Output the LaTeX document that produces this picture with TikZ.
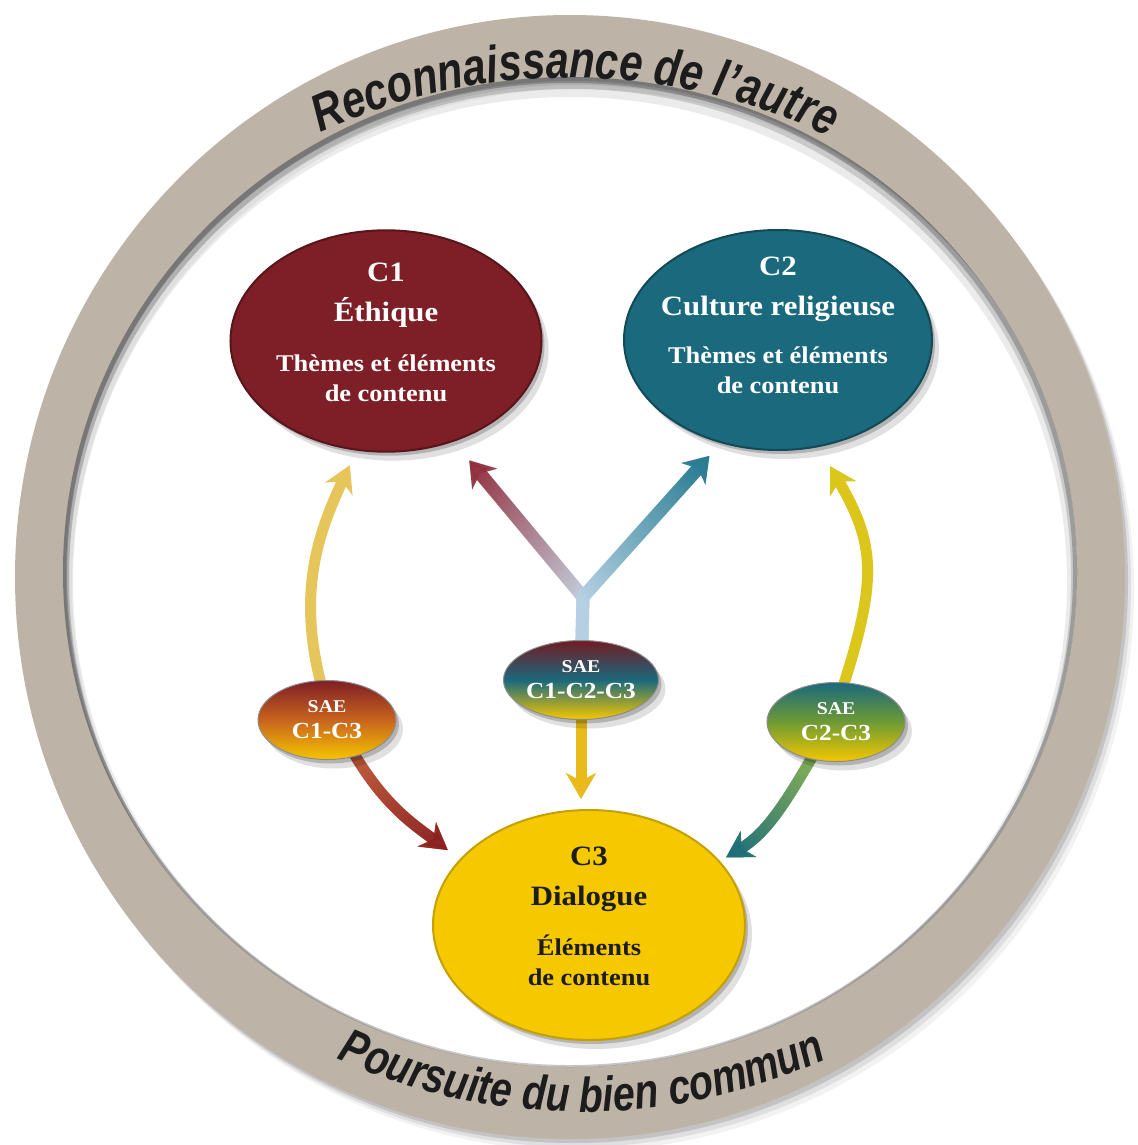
\documentclass[tikz,border=0pt]{standalone}
\usepackage{fontspec}
\setmainfont{Liberation Serif}[FakeStretch=1.1]
\newfontfamily\ringfont{Liberation Sans}[FakeStretch=0.8]
\usepackage{tikz}
\usetikzlibrary{arrows.meta,positioning,shapes.geometric,shadows,fadings,backgrounds,decorations.text}

\definecolor{ethred}{HTML}{7E1E26}
\definecolor{cultteal}{HTML}{1B697D}
\definecolor{dialyel}{HTML}{F5C800}
\definecolor{ringgray}{HTML}{BDB3A7}
\definecolor{goldarrow}{HTML}{E6C65A}
\definecolor{lemonarrow}{HTML}{DCC61C}
\definecolor{downgold}{HTML}{E8BA1C}
\definecolor{rustarrow}{HTML}{B8553A}
\definecolor{winearrow}{HTML}{8A2222}
\definecolor{leafarrow}{HTML}{7AA85A}
\definecolor{deeparrow}{HTML}{1F6F7A}
\definecolor{paleblue}{HTML}{C4CEDC}
\definecolor{skypale}{HTML}{B4D0E2}
\definecolor{skyarrow}{HTML}{2A7D93}
\definecolor{plumarrow}{HTML}{93303F}
\definecolor{saegreen}{HTML}{6E9A34}
\definecolor{saeorange}{HTML}{C8641E}
\definecolor{inkgray}{HTML}{1C1C1C}

\tikzfading[name=tipfade, top color=transparent!0, bottom color=transparent!100]

\newcommand{\ovaltitle}{\fontsize{28}{40}\selectfont}
\newcommand{\ovalsub}{\fontsize{24}{40}\selectfont}

\begin{document}
\begin{tikzpicture}[
        x=1pt,
        y=1pt,
        oval/.style={ellipse, inner sep=0pt, align=center,
            drop shadow={shadow xshift=3pt, shadow yshift=-4pt, opacity=0.2, fill=black},
            drop shadow={shadow xshift=7pt, shadow yshift=-9pt, opacity=0.12, fill=black}},
        bigoval/.style={oval, minimum width=308pt, minimum height=220pt, line width=2pt,
            font=\bfseries\ovaltitle},
        sae/.style={oval, minimum width=138pt, minimum height=79pt, text=white,
            draw=black!45, line width=1pt, font=\bfseries\fontsize{18}{26}\selectfont},
        tube/.style={line width=11pt, shorten <=-8pt, -{Stealth[length=26pt, width=30pt, inset=8pt]}},
        ybranch/.style={line width=13pt, line join=miter, shorten <=-8pt,
            -{Stealth[length=24pt, width=32pt, inset=7pt]}},
        tipshade/.style={path fading=tipfade, fading angle=#1},
        ringshade/.style={black, opacity=#1, even odd rule}
    ]
        \useasboundingbox (0,0) rectangle (1137,-1145);
        \begin{scope}[on background layer]
            \fill[white] (0,0) rectangle (1137,-1145);
        \end{scope}

        % Ring with its shadow
        \foreach \dx/\dy/\op in {3/-4/0.12, 6/-8/0.08, 9/-12/0.05} {
            \fill[ringshade=\op] (570+\dx,-577+\dy) ellipse[x radius=555, y radius=562]
                (570+\dx,-572+\dy) ellipse[x radius=507, y radius=495];
        }
        \fill[ringgray, even odd rule] (570,-577) ellipse[x radius=555, y radius=562]
            (570,-572) ellipse[x radius=507, y radius=495];
        \begin{scope}
            \clip (570,-572) ellipse[x radius=507, y radius=495];
            \foreach \s/\w/\op in {2/8/0.22, 6/12/0.14, 10/20/0.08} {
                \draw[black, opacity=\op, line width=\w] (570,-572-\s) ellipse[x radius=507, y radius=495];
            }
        \end{scope}

        \path[decorate, decoration={text along path, text align=center,
            text={|\color{inkgray}\ringfont\bfseries\itshape\fontsize{52}{52}\selectfont|Reconnaissance de l’autre}}]
            (570,-678) ++(117:600) arc[start angle=117, end angle=62, radius=600];
        \path[decorate, decoration={text along path, text align=center,
            text={|\color{inkgray}\ringfont\bfseries\itshape\fontsize{49}{49}\selectfont|Poursuite du bien commun}}]
            (582,-523) ++(243:589) arc[start angle=243, end angle=297, radius=589];

        % Competencies
        \node[bigoval, fill=ethred, draw=ethred!70!black, text=white, text depth=18pt] (c1) at (386,-341)
            {C1\\Éthique\\[10pt]\ovalsub Thèmes et éléments\\[-10pt]\ovalsub de contenu};
        \node[bigoval, inner sep=-12pt, fill=cultteal, draw=cultteal!70!black, text=white, text depth=30pt] (c2) at (778,-340)
            {C2\\Culture religieuse\\[8pt]\ovalsub Thèmes et éléments\\[-10pt]\ovalsub de contenu};
        \node[bigoval, minimum width=312pt, minimum height=230pt, fill=dialyel, draw=dialyel!80!black,
            text=inkgray, text depth=18pt] (c3) at (589,-925)
            {C3\\Dialogue\\[10pt]\ovalsub Éléments\\[-10pt]\ovalsub de contenu};

        % Learning situations
        \node[sae, top color=ethred, bottom color=dialyel!95!orange, middle color=saeorange] (s13) at (327,-720)
            {SAE\\\fontsize{23}{26}\selectfont C1-C3};
        \node[sae, top color=ethred!90!black, bottom color=dialyel, middle color=cultteal] (s123) at (581,-680)
            {SAE\\\fontsize{23}{26}\selectfont C1-C2-C3};
        \node[sae, top color=cultteal, bottom color=dialyel, middle color=saegreen] (s23) at (836,-722)
            {SAE\\\fontsize{23}{26}\selectfont C2-C3};

        \coordinate (fork) at (583,-597);

        \begin{scope}[on background layer]
            \draw[tube, goldarrow, shorten >=16pt] (s13.100) to[out=105, in=245] (c1.255);
            \draw[tube, rustarrow, shorten >=15pt] (s13.-52) to[out=-60, in=143] (c3.153);
            \draw[tube, winearrow, tipshade=-135, shorten >=15pt] (s13.-52) to[out=-60, in=143] (c3.153);

            \draw[tube, lemonarrow, shorten >=22pt] (s23.78) to[out=72, in=-60, looseness=1.2] (c2.291);
            \draw[tube, leafarrow, shorten >=7pt] (s23.236) to[out=240, in=31] (c3.26);
            \draw[tube, deeparrow, tipshade=135, shorten >=7pt] (s23.236) to[out=240, in=31] (c3.26);

            % Y fork towards C1 and C2
            \draw[ybranch, paleblue, shorten >=24pt] (s123) -- (fork) -- (c1.304);
            \draw[ybranch, plumarrow, tipshade=40, shorten >=24pt] (s123) -- (fork) -- (c1.304);
            \draw[ybranch, skypale, shorten >=17pt] (s123) -- (fork) -- (c2.241);
            \draw[ybranch, skyarrow, tipshade=-42, shorten >=17pt] (s123) -- (fork) -- (c2.241);

            \draw[tube, downgold, shorten >=10pt] (s123) -- (s123.south |- c3.north);
        \end{scope}
    \end{tikzpicture}
\end{document}
